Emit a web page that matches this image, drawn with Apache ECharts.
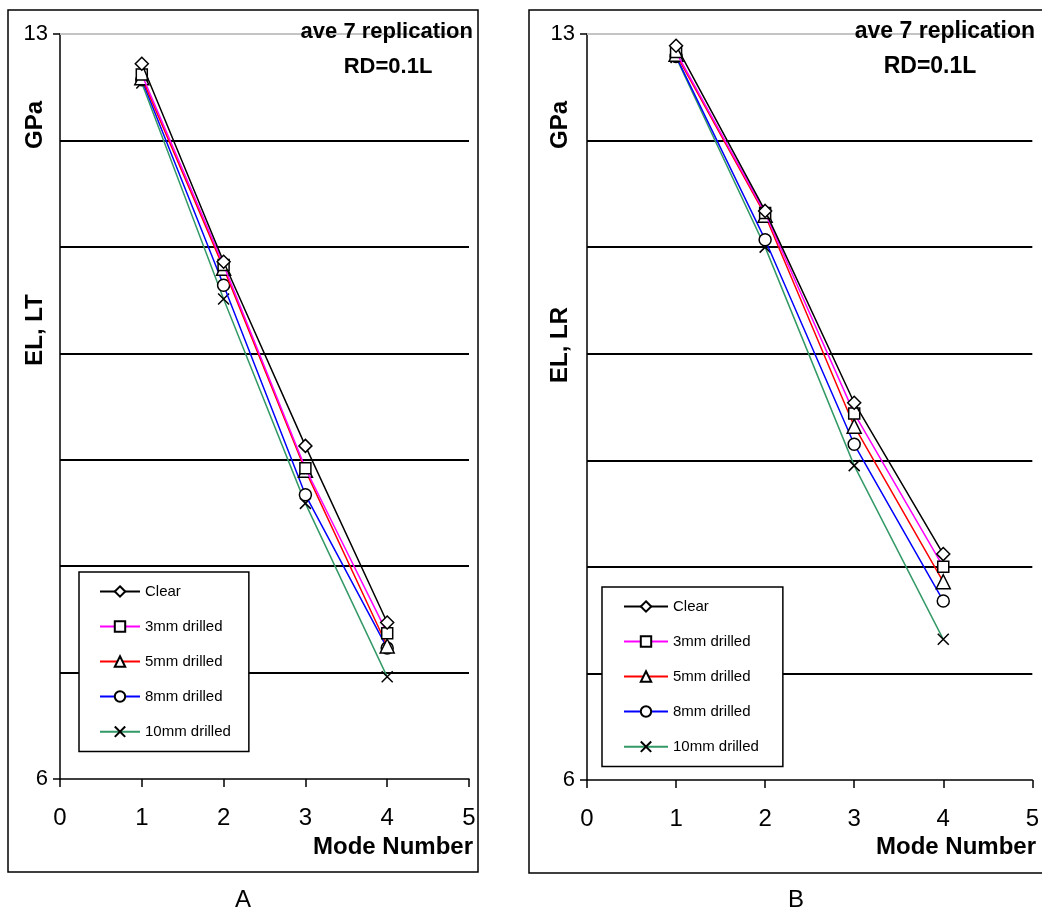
<!DOCTYPE html>
<html>
<head>
<meta charset="utf-8">
<script src="https://cdn.jsdelivr.net/npm/echarts@6/dist/echarts.min.js"></script>
<style>
  html, body { margin: 0; padding: 0; background: #fff; }
  #chart { width: 1042px; height: 911px; }
</style>
</head>
<body>
<div id="chart"></div>
<script>
// mode numbers (x)
var modes = [1, 2, 3, 4];
var seriesNames = ['Clear', '3mm drilled', '5mm drilled', '8mm drilled', '10mm drilled'];

// panel A : EL, LT (GPa)
var clearA = [12.72, 10.86, 9.13, 7.47];
var mm3A = [12.62, 10.83, 8.92, 7.37];
var mm5A = [12.59, 10.80, 8.90, 7.25];
var mm8A = [12.57, 10.64, 8.67, 7.23];
var mm10A = [12.54, 10.51, 8.59, 6.96];

// panel B : EL, LR (GPa)
var clearB = [12.89, 11.34, 9.54, 8.12];
var mm3B = [12.83, 11.32, 9.44, 8.00];
var mm5B = [12.81, 11.30, 9.32, 7.86];
var mm8B = [12.79, 11.07, 9.15, 7.68];
var mm10B = [12.78, 11.00, 8.95, 7.32];

var xTicks = [0, 1, 2, 3, 4, 5];
var yLabelValues = [6, 13];
var gridValues = [7, 8, 9, 10, 11, 12];
var topGridValue = 13;

var lineColors = ['#000000', '#ff00ff', '#ff0000', '#0000ff', '#339966'];
var symbols = ['diamond', 'rect', 'triangle', 'circle', 'path://M0,0L10,10M10,0L0,10'];
var symbolSizes = [13, 11, 14, 12, 11];

var font = '"Liberation Sans", Arial, sans-serif';

var myChart = echarts.init(document.getElementById('chart'));

// 横向网格线 (markLine)
var gridMarkLine = function () {
  var data = gridValues.map(function (v) {
    return { yAxis: v, lineStyle: { color: '#000', width: 2, type: 'solid' } };
  });
  data.push({ yAxis: topGridValue, lineStyle: { color: '#c4c4c4', width: 2, type: 'solid' } });
  return { silent: true, symbol: 'none', label: { show: false }, animation: false, data: data };
};

var makeSeries = function (lists, idx) {
  return lists.map(function (vals, i) {
    var s = {
      name: seriesNames[i],
      type: 'line',
      xAxisIndex: idx,
      yAxisIndex: idx,
      data: vals.map(function (v, j) { return [modes[j], v]; }),
      symbol: symbols[i],
      symbolSize: symbolSizes[i],
      showAllSymbol: true,
      z: 10 - i,
      lineStyle: { color: lineColors[i], width: 1.5 },
      itemStyle: { color: i === 4 ? 'none' : '#fff', borderColor: '#000', borderWidth: 1.5 },
      emphasis: { disabled: true },
      animation: false
    };
    if (i === 0) s.markLine = gridMarkLine();
    return s;
  });
};

var makeXAxis = function (idx) {
  return {
    type: 'value', gridIndex: idx, min: 0, max: 5, interval: 1,
    axisLine: { lineStyle: { color: '#000', width: 1.5 } },
    axisTick: { show: true, length: 8, lineStyle: { color: '#000', width: 1.5 } },
    axisLabel: { color: '#000', fontSize: 24, fontFamily: font, margin: 27,
      customValues: xTicks },
    splitLine: { show: false }
  };
};

var makeYAxis = function (idx) {
  return {
    type: 'value', gridIndex: idx, min: 6, max: 13, interval: 1,
    axisLine: { show: true, lineStyle: { color: '#000', width: 1.5 } },
    axisTick: { show: true, length: 7, customValues: yLabelValues, lineStyle: { color: '#000', width: 1.5 } },
    axisLabel: { color: '#000', fontSize: 22, fontFamily: font, margin: 12,
      customValues: yLabelValues },
    splitLine: { show: false }
  };
};

var makeLegend = function (left, top, itemWidth, padding) {
  return {
    left: left, top: top, orient: 'vertical',
    data: seriesNames,
    backgroundColor: '#fff', borderColor: '#000', borderWidth: 1.5,
    padding: padding, itemGap: 20, itemWidth: itemWidth, itemHeight: 13,
    selectedMode: false, z: 20,
    textStyle: { fontSize: 15, lineHeight: 15, fontFamily: font, color: '#000' }
  };
};

var boldText = function (x, y, text, size, align, rot) {
  return {
    type: 'text', x: x, y: y, rotation: rot || 0, z: 30,
    style: { text: text, fill: '#000', font: 'bold ' + size + 'px ' + font,
      textAlign: align, textVerticalAlign: 'middle' }
  };
};

var option = {
  animation: false,
  grid: [
    { left: 60, top: 34, width: 409, height: 745 },
    { left: 587, top: 34, width: 446, height: 746 }
  ],
  xAxis: [makeXAxis(0), makeXAxis(1)],
  yAxis: [makeYAxis(0), makeYAxis(1)],
  legend: [
    makeLegend(79, 572, 40, [12, 18, 12, 20]),
    makeLegend(602, 587, 44, [12, 24, 12, 21])
  ],
  series: makeSeries([clearA, mm3A, mm5A, mm8A, mm10A], 0)
    .concat(makeSeries([clearB, mm3B, mm5B, mm8B, mm10B], 1)),
  graphic: [
    { type: 'rect', shape: { x: 8, y: 10, width: 470, height: 862 },
      style: { fill: 'none', stroke: '#000', lineWidth: 1.5 }, z: -1 },
    { type: 'rect', shape: { x: 529, y: 10, width: 520, height: 863 },
      style: { fill: 'none', stroke: '#000', lineWidth: 1.5 }, z: -1 },
    boldText(473, 32, 'ave 7 replication', 22, 'right'),
    boldText(388, 67, 'RD=0.1L', 22, 'center'),
    boldText(1035, 32, 'ave 7 replication', 23, 'right'),
    boldText(930, 67, 'RD=0.1L', 23, 'center'),
    boldText(473, 847, 'Mode Number', 24, 'right'),
    boldText(1036, 847, 'Mode Number', 24, 'right'),
    boldText(35, 125, 'GPa', 24, 'center', Math.PI / 2),
    boldText(35, 330, 'EL, LT', 24, 'center', Math.PI / 2),
    boldText(560, 125, 'GPa', 24, 'center', Math.PI / 2),
    boldText(560, 345, 'EL, LR', 24, 'center', Math.PI / 2),
    { type: 'text', x: 243, y: 900, style: { text: 'A', fill: '#000', font: '24px ' + font,
      textAlign: 'center', textVerticalAlign: 'middle' } },
    { type: 'text', x: 796, y: 900, style: { text: 'B', fill: '#000', font: '24px ' + font,
      textAlign: 'center', textVerticalAlign: 'middle' } }
  ]
};

myChart.setOption(option);
</script>
</body>
</html>
